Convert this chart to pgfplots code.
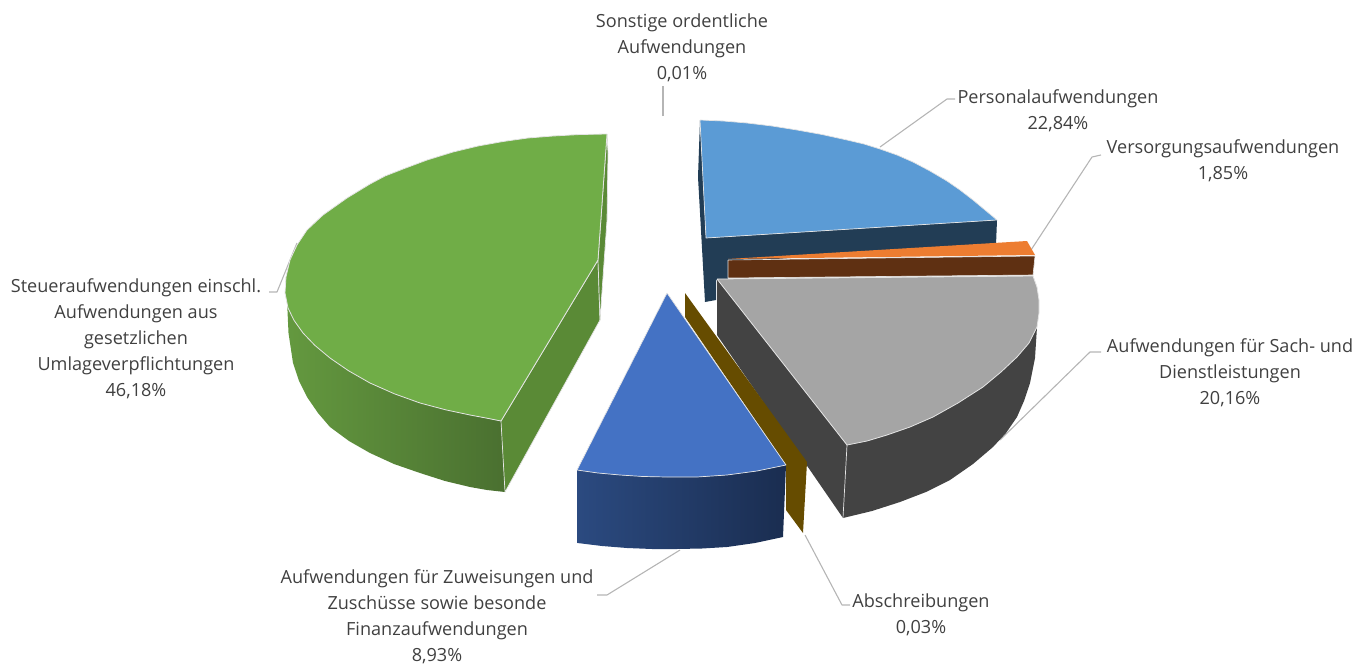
\documentclass[border=0pt]{standalone}
\usepackage{pgfplots}
\pgfplotsset{compat=1.18}
\usepackage{fontspec}
\setmainfont{Open Sans}
\definecolor{txt}{HTML}{404040}
\definecolor{ln}{HTML}{B5B5B5}
\definecolor{edge}{HTML}{E4E4E4}
\definecolor{greenTop}{HTML}{70AD47}
\definecolor{greenL}{HTML}{64993F}
\definecolor{greenR}{HTML}{4A7030}
\definecolor{greenS}{HTML}{5A8A36}
\definecolor{skyTop}{HTML}{5B9BD5}
\definecolor{skyS}{HTML}{223D55}
\definecolor{orTop}{HTML}{ED7D31}
\definecolor{orS}{HTML}{5F3012}
\definecolor{grTop}{HTML}{A5A5A5}
\definecolor{grS}{HTML}{434343}
\definecolor{gold}{HTML}{664C00}
\definecolor{blTop}{HTML}{4472C4}
\definecolor{blL}{HTML}{2B4A80}
\definecolor{blR}{HTML}{1A2D50}
\begin{document}
\begin{tikzpicture}
\begin{axis}[
  scale only axis, width=1371pt, height=664pt,
  xmin=0, xmax=1371, ymin=0, ymax=664, y dir=reverse,
  hide axis, clip=false,
  every axis plot/.append style={line join=round},
  nodes={font=\fontsize{18.1}{26}\selectfont, text=txt, align=center, inner sep=0pt}
]
% leader lines
\addplot[ln, line width=1.1pt] coordinates {(880,147) (947,99) (955,99)};
\addplot[ln, line width=1.1pt] coordinates {(1031,250) (1092,157) (1101,155)};
\addplot[ln, line width=1.1pt] coordinates {(1000,440) (1090,352) (1101,352)};
\addplot[ln, line width=1.1pt] coordinates {(663,116) (663,86)};
\addplot[ln, line width=1.1pt] coordinates {(297,243) (277,292) (269,292)};
\addplot[ln, line width=1.1pt] coordinates {(805,535) (842,605) (850,605)};
\addplot[ln, line width=1.1pt] coordinates {(680,550) (607,595) (597,595)};
% green
\addplot[draw=none, left color=greenL, right color=greenR] coordinates {
 (285,287) (288,308) (303,333) (330,358) (370,383) (420,403) (470,415) (501,421) (505,492)
 (487,490) (470,487) (445,481) (420,473) (394,464) (370,453) (349,441) (330,427) (318,413) (307,397) (299,381) (293,363) (288.5,333) (287,300) (285,287)};
\addplot[draw=edge, line width=0.7pt, fill=greenS] coordinates {(501,421) (598,260) (600,320) (505,492) (501,421)};
\addplot[draw=edge, line width=0.7pt, fill=greenS] coordinates {(607,134) (608,153) (607,220) (600,320) (598,260) (607,134)};
\addplot[draw=edge, line width=0.8pt, fill=greenTop] coordinates {
 (607,134) (580,134.5) (553,136) (527.8,138) (503,141.5) (478,146) (453,152) (427,160) (403,169) (385,176) (370,184) (347,198) (323,215) (307,230) (297,245) (290,260) (286,277) (285,293)
 (288,308) (294,320.3) (303,333) (315,345.5) (330,358) (348.6,370.8) (370,383) (394.4,393.8) (420,403) (446,409.9) (470,415) (486,418) (501,421) (598,260) (607,134)};
% sky blue
\addplot[draw=none, fill=skyS] coordinates {(700,120) (698,177) (705,302) (716,300) (716,280) (728,280) (728,262) (996,245) (997,220) (706,238) (700,120)};
\addplot[draw=edge, line width=0.7pt, fill=skyTop] coordinates {
 (700,120) (723,121) (747,123) (772,126) (797,130) (822,134.5) (847,140) (864,144) (880,149) (897,155) (913,162) (930,171) (947,181) (960,190) (973,200) (985,210) (997,220) (706,238) (700,120)};
% orange
\addplot[draw=edge, line width=0.6pt, fill=orS] coordinates {(728,260) (1035,256) (1033,275) (728,278) (728,260)};
\addplot[draw=none, fill=orTop] coordinates {(728,259) (1027,241) (1035,255) (728,259)};
% gray
\addplot[draw=none, fill=grS] coordinates {
 (717,279) (847,445) (887,435) (933,417) (983,387) (1017,357) (1037,327) (1035,358) (1030,383) (1024,401) (1017,417) (1006,433) (993,447) (973,464) (950,480) (926,492) (900,502) (872,511)
 (843,518) (717,335) (717,279)};
\addplot[draw=edge, line width=0.7pt] coordinates {(847,445) (843,518)};
\addplot[draw=edge, line width=0.8pt, fill=grTop] coordinates {
 (717,279) (1033,276) (1037,287) (1039,300) (1039,313) (1037,327) (1029,343) (1017,357) (1001,372) (983,387) (958,403) (933,417) (910,427) (887,435) (867,441) (847,445) (717,279)};
% gold slice
\addplot[draw=none, fill=gold] coordinates {(685,293) (807,462) (803,533) (786,510) (786,465) (685,317) (685,293)};
% blue
\addplot[draw=none, left color=blL, right color=blR] coordinates {
 (577.5,470) (598,473) (620,475) (643,476.5) (667,477) (697,477) (727,475) (757,471) (786,465) (783,537) (755,543) (727,547) (702,548.5) (677,549) (652,549) (627,548) (602,546) (577.5,543) (577.5,470)};
\addplot[draw=edge, line width=0.7pt, fill=blTop] coordinates {
 (667,293) (786,465) (757,471) (727,475) (697,477) (667,477) (643,476.5) (620,475) (598,473) (577,470) (667,293)};
% labels
\node at (axis cs:682,48) {Sonstige ordentliche\\Aufwendungen\\0,01\%};
\node at (axis cs:1058,111) {Personalaufwendungen\\22,84\%};
\node at (axis cs:1223,161) {Versorgungsaufwendungen\\1,85\%};
\node at (axis cs:1230,373) {Aufwendungen für Sach- und\\Dienstleistungen\\20,16\%};
\node at (axis cs:136,339) {Steueraufwendungen einschl.\\Aufwendungen aus\\gesetzlichen\\Umlageverpflichtungen\\46,18\%};
\node at (axis cs:437,616.5) {Aufwendungen für Zuweisungen und\\Zuschüsse sowie besonde\\Finanzaufwendungen\\8,93\%};
\node at (axis cs:921,615) {Abschreibungen\\0,03\%};
\end{axis}
\pgfresetboundingbox
\path[use as bounding box] (0,0) rectangle (1371pt,664pt);
\end{tikzpicture}
\end{document}
